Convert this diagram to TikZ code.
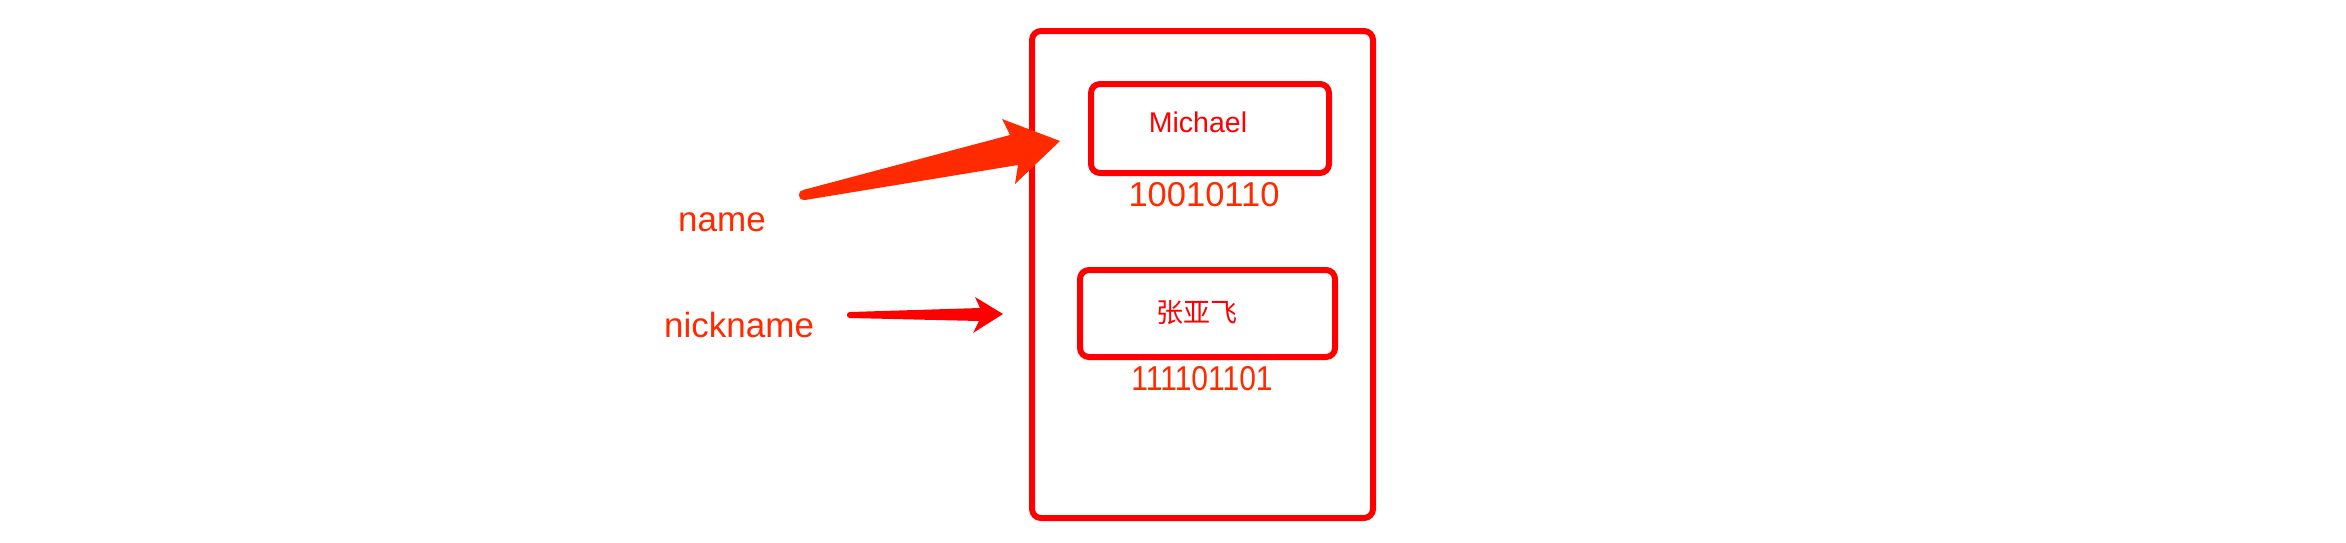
\documentclass[tikz,border=0pt]{standalone}
\usepackage{fontspec}
\setmainfont{Liberation Sans}
\newfontfamily\cjk{Noto Sans CJK SC}
\definecolor{orred}{HTML}{FF2A00}
\definecolor{boxred}{HTML}{FF0000}
\begin{document}
\begin{tikzpicture}[x=1pt,y=-1pt,
  frame/.style={draw=boxred,line width=6pt,rounded corners=9pt,outer sep=0pt},
  lbl/.style={text=orred,inner sep=0pt,font=\fontsize{35}{40}\selectfont},
  bits/.style={text=orred,inner sep=0pt,font=\fontsize{34.5}{40}\selectfont},
  val/.style={text=boxred,inner sep=0pt},
]
\useasboundingbox (0,0) rectangle (2346,542);
% memory block
\draw[frame] (1032,31) rectangle (1373,518);
\node[frame,minimum width=238pt,minimum height=89pt,anchor=north west] (mbox) at (1091,84) {};
\node[frame,minimum width=255pt,minimum height=87pt,anchor=north west] (zbox) at (1080,270) {};
\node[val,anchor=base,font=\fontsize{28.5}{32}\selectfont] (michael) at (1198,132) {Michael};
\node[val,anchor=center,font=\cjk\fontsize{27}{32}\selectfont] (zyf) at (1197,313) {张亚飞};
\node[bits,anchor=base] (b1) at (1204,206) {10010110};
\node[bits,anchor=base] (b2) at (1202,390) {\scalebox{0.87}[1]{111101101}};
% labels
\node[lbl,anchor=base west] (name) at (678,231) {name};
\node[lbl,anchor=base west] (nick) at (664,337) {nickname};
% arrows
\coordinate (t1) at (804,195);
\coordinate (h1) at (1060,141);
\coordinate (t2) at (850,315);
\coordinate (h2) at (1003,314);
\fill[orred] (803,190) -- (1010,135) -- (1002,119) -- (h1) -- (1015,184) -- (1018,165) -- (805,200) -- cycle;
\fill[orred] (t1) circle (5.2pt);
\fill[boxred] (850,312) -- (980,308) -- (975,297) -- (h2) -- (973,333) -- (979,321) -- (850,318) -- cycle;
\fill[boxred] (t2) circle (3.1pt);
\end{tikzpicture}
\end{document}
